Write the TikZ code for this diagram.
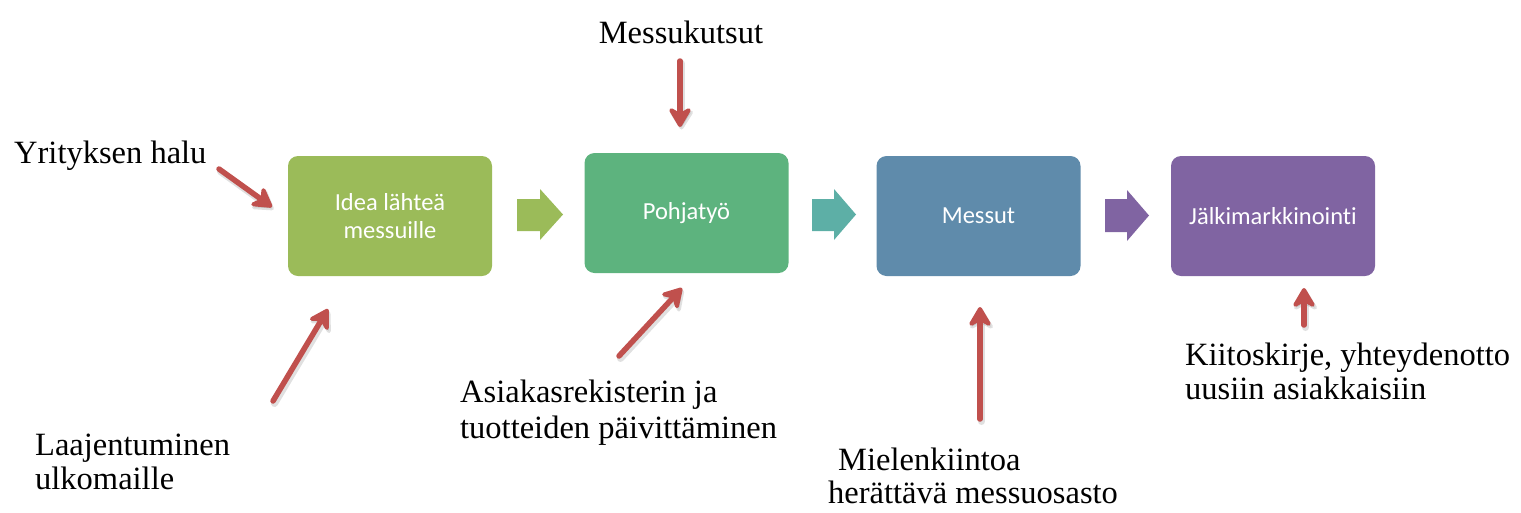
\documentclass[tikz,border=0pt]{standalone}
\usepackage{fontspec}
\setmainfont{Liberation Serif}
\newfontfamily\boxfont[Ligatures=NoCommon]{Carlito}
\usetikzlibrary{arrows.meta}
\definecolor{cgreenA}{HTML}{9BBB59}
\definecolor{cgreenB}{HTML}{5DB37E}
\definecolor{cteal}{HTML}{5DAFA6}
\definecolor{cblue}{HTML}{5F8BAB}
\definecolor{cpurple}{HTML}{8064A2}
\definecolor{cred}{HTML}{C0504D}
\tikzset{
  stagebox/.style={draw=none, rounded corners=10pt, minimum width=204pt, minimum height=120pt,
    text=white, font=\boxfont\fontsize{24.5}{28}\selectfont, align=center, inner sep=0pt},
  lbl/.style={anchor=base west, inner sep=0pt, font=\fontsize{32.5}{38}\selectfont},
  redarrow/.style={draw=cred, line width=5.5pt, line cap=round,
    -{Stealth[length=24pt,width=28pt,inset=8pt,round]}},
  redshadow/.style={draw=black, opacity=0.12, line width=7pt, line cap=round,
    -{Stealth[length=24pt,width=30pt,inset=8pt,round]}},
}
\begin{document}
\begin{tikzpicture}[x=1pt,y=-1pt]
\useasboundingbox (0,0) rectangle (1521,512);
% stage boxes
\node[stagebox, fill=cgreenA] (b1) at (390,216) {Idea lähteä\\messuille};
\node[stagebox, fill=cgreenB] (b2) at (686.5,213) {Pohjatyö};
\node[stagebox, fill=cblue] (b3) at (978.5,216) {Messut};
\node[stagebox, fill=cpurple] (b4) at (1273,216) {Jälkimarkkinointi};
% block arrows
\fill[cgreenA] (517,199) -- (540,199) -- (540,189) -- (563,214.5) -- (540,240) -- (540,231) -- (517,231) -- cycle;
\fill[cteal] (812,199) -- (834,199) -- (834,189) -- (856,214.5) -- (834,240) -- (834,231) -- (812,231) -- cycle;
\fill[cpurple] (1105,199) -- (1127,199) -- (1127,190) -- (1149,215.5) -- (1127,241) -- (1127,232) -- (1105,232) -- cycle;
% labels
\node[anchor=base, inner sep=0pt, font=\fontsize{32.5}{38}\selectfont] (t1) at (681,43) {Messukutsut};
\node[lbl] (t2) at (14,163) {Yrityksen halu};
\node[lbl] (t3a) at (35,455) {Laajentuminen};
\node[lbl] (t3b) at (35,489) {ulkomaille};
\node[lbl] (t4a) at (460,402) {Asiakasrekisterin ja};
\node[lbl] (t4b) at (460,438) {tuotteiden päivittäminen};
\node[lbl] (t5a) at (838,470) {Mielenkiintoa};
\node[lbl] (t5b) at (828,503) {herättävä messuosasto};
\node[lbl] (t6a) at (1185,365) {Kiitoskirje, yhteydenotto};
\node[lbl] (t6b) at (1185,399) {uusiin asiakkaisiin};
% red arrow endpoints
\coordinate (a1s) at (680,61);   \coordinate (a1e) at (680,127);
\coordinate (a2s) at (219,169);  \coordinate (a2e) at (272,207);
\coordinate (a3s) at (273,401);  \coordinate (a3e) at (328,309);
\coordinate (a4s) at (619,356);  \coordinate (a4e) at (682,288);
\coordinate (a5s) at (980,419);  \coordinate (a5e) at (980,307);
\coordinate (a6s) at (1304,325); \coordinate (a6e) at (1304,288);
\foreach \s/\e in {a1s/a1e,a2s/a2e,a3s/a3e,a4s/a4e,a5s/a5e,a6s/a6e}{
  \draw[redshadow, transform canvas={shift={(1.5pt,-2.5pt)}}] (\s) -- (\e);
  \draw[redarrow] (\s) -- (\e);
}
\end{tikzpicture}
\end{document}
